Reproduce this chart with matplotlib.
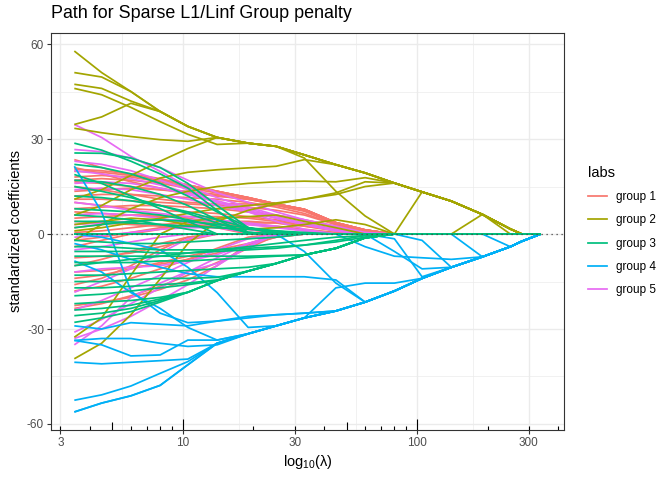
import numpy as np
import matplotlib
matplotlib.use("Agg")
import matplotlib.pyplot as plt
from matplotlib.lines import Line2D

plt.rcParams['font.family'] = ['Liberation Sans', 'DejaVu Sans']
plt.rcParams['mathtext.fontset'] = 'custom'
plt.rcParams['mathtext.rm'] = 'Liberation Sans'

# lambda knots of the path
lam = [3.44, 4.5, 6, 8, 10.5, 14, 19, 25, 33, 45, 60, 80, 105, 140, 190, 250, 280, 337]
n_k = len(lam)

# shared max-norm envelopes
env2 = [57.8, 51, 45, 38.7, 34, 30.5, 28.7, 27.7, 25, 21.9, 19.3, 16.1, 13.3, 10.4, 6.2, 1.6, 0, 0]
env4 = [-56.2, -53.4, -51.1, -47.8, -41.3, -34.5, -31.5, -29, -26.5, -24.3, -21.5, -18, -14, -10.5, -7.2, -4, -2.3, 0]
env3 = [-25.8, -25, -23.5, -21, -18.4, -14.7, -11.7, -9.3, -6.6, -4.5, -1.2]

group1 = [
    [23.5, 21, 18.5, 17, 15.5, 13.5, 11.5, 9.5, 7.8, 3.6, 1.3],
    [19.8, 19.5, 18.5, 17, 15.5, 13.5, 11.5, 9.5, 7.8, 3.6, 1.3],
    [18, 18.5, 18, 16.5, 15, 13.5, 11.5, 9.5, 7.8, 3.6, 1.3],
    [21, 19, 16.5, 14.5, 13, 12, 11, 9.5, 7.8, 3.6, 1.3],
    [20.5, 20, 19, 17.5, 15.5, 13.5, 11.5, 9.5, 7.8, 3.6, 1.3],
    [17, 17.5, 17, 16, 14.5, 13, 11.5, 9.5, 7.8, 3.6, 1.3],
    [16.5, 16, 15, 14, 13, 12, 11, 9.3, 7.5, 3.4, 1.2],
    [15, 14, 12.5, 11, 10, 9.5, 9.5, 9, 7.2, 3.2, 1],
    [13.5, 14, 14.5, 14, 13.5, 12.5, 11, 9.3, 7.5, 3.4, 1.2],
    [12, 12.5, 12.5, 12, 11.5, 11, 10, 8.5, 6.5, 3, 0.8],
    [11, 11, 10.5, 10, 9.5, 9, 8.5, 7.5, 6, 3, 1],
    [10, 9, 8, 7.5, 7, 6.5, 5.5, 4.5, 3, 1.5, 0.5],
    [8, 8.5, 9, 9, 8.5, 8, 7, 6, 4.5, 2.5, 0.8],
    [7, 6.5, 6, 5.5, 5.5, 5.5, 5, 4, 3, 1.5, 0.5],
    [5, 5.5, 6, 6, 5, 3.5, 2, 0.5],
    [4, 3.5, 3, 2.5, 2.5, 3, 3.5, 3.5, 2.5, 1.2, 0.3],
    [2, 3, 4, 4.5, 4, 3, 1.5],
    [0.5, 1, 2, 3, 3.5, 4, 4, 3.5, 2.5, 1],
    [-2, -1, 0.5, 2, 2.5, 2],
    [-4, -2, 0, 1.5, 2.5, 3, 3, 2.5, 1.5, 0.5],
    [-7.5, -7, -6, -4, -2],
    [-10, -8, -5.5, -3, -1],
    [-12, -11.5, -10.5, -9.5, -8, -6, -3.5, -1],
    [-14, -13, -11, -9, -7, -5, -3, -1],
    [-16, -14, -10, -5, -1],
    [-18, -16.5, -14, -11, -8, -4.5, -1],
    [-22.6, -21.5, -20, -17.5, -14.5, -10, -3.2],
    [-23.5, -22, -19.5, -16.5, -13, -9, -4.5, -0.5],
]

group2 = [
    env2,
    [51, 49.6] + env2[2:14] + [6.2, 0, 0, 0],
    [47.3, 46, 42] + env2[3:],
    [46, 44, 40, 35.5, 31.5, 28.3] + env2[6:],
    [34.6, 37, 41.3] + env2[3:8] + [24, 13.5, 5.7],
    [33.4, 32, 30.8, 29.8, 29.3] + env2[5:],
    [0] * 12 + env2[12:],
    [11, 14, 18.5, 23, 27] + env2[5:],
    [6, 9, 14, 17.7, 19.5, 20.3, 20.9, 21.4, 23.5] + env2[9:],
    [-2, 3, 8, 11.5, 13.5, 15, 16, 16.5, 16.7, 16.5, 17.8] + env2[11:],
    [1, 2, 3.5, 5, 6.5, 8, 9, 9.8, 11, 13, 16.5] + env2[11:],
    [-39.4, -34.5, -25.5, -14.2, -3, 4, 7.5, 9.5, 11, 12.5, 15] + env2[11:],
    [-32.6, -26.5, -13, 0, 4, 5, 5.5, 6, 4, 2],
    [3, 4, 5, 4.5, 3, 2, 1.5, 2, 3, 4.5, 3],
    [0] * 14 + env2[14:],
]

group3 = [
    env3,
    [-27.9, -26.5, -24.5, -21.5] + env3[4:],
    [-24, -23.5, -22.5, -20.5] + env3[4:],
    [-22, -21.5, -21, -20] + env3[4:],
    [-19.5, -19, -18, -17, -16] + env3[5:],
    [-17, -17, -16.5, -16, -15.5, -14.5] + env3[6:],
    [-15, -15, -14.5, -14, -14, -13.7] + env3[6:],
    [-13, -13, -12.5, -12, -11.5, -11, -10.5] + env3[7:],
    [-9, -9, -9, -8.5, -8.5, -8, -7.5, -7, -6.6, -4.5, -1.2],
    [-7, -7, -7, -7, -7, -7, -7, -6.8, -6.6, -4.5, -1.2],
    [-10, -9, -8, -7, -6, -5, -4, -3, -2, -1, -0.5],
    [-5.5, -5.5, -5.5, -6, -6, -5.5, -5, -4.5, -3.5, -2, -0.5],
    [-4, -4, -4.5, -5, -5, -5, -4.5, -4, -3.5, -2.5, -1],
    [-2, -2.5, -3, -3, -2.5, -2, -1.5, -1],
    [28.7, 26.5, 23, 19, 14.5, 7.5, 0.5],
    [25.6, 25.5, 24, 21, 16, 9, 2],
    [22, 21, 19, 16, 12, 7, 2],
    [18.8, 16, 12, 8, 4],
    [17, 16.5, 15, 12.5, 9, 4.5],
    [15, 13.5, 11.5, 9, 6.5, 3.5, 0.5],
    [12, 11.5, 10.5, 9, 7, 4.5, 2, 0.5],
    [8, 7.5, 7, 6, 4.5, 2.5, 0.5],
    [6, 5.5, 4.5, 3, 1.5],
    [4, 4, 3.5, 3, 2.5, 2, 1.5, 1, 0.5],
    [2, 3, 4, 4.5, 4, 3, 2, 1],
    [0],
    [0],
]

group4 = [
    env4,
    [-52.5, -50.8, -48, -44, -40.3] + env4[5:],
    [-40.5, -41, -40.5, -40, -39.5] + env4[5:],
    [-33.6, -35, -38.5, -38.2, -33.5, -33.5] + env4[6:],
    [-33.6, -33, -33, -34.5, -35.5, -35] + env4[6:],
    [-29, -30, -28, -28.5, -29, -27.5, -26, -25.5, -25] + env4[9:],
    [21.4, 7, -18, -25, -28, -27.5, -26.5, -25.5, -25] + env4[9:],
    [-8.5, -12, -18.5, -23.5, -29.5, -33.5] + env4[6:],
    [0, -1, -3, -5, -10.5, -18.5, -29.5] + env4[7:],
    [-3, -5, -8, -10.5, -12.5, -13.5, -13.5, -13.5, -13.5, -14.5] + env4[10:],
    env4[:9] + [-17, -15.5, -15.5, -14] + env4[13:],
    [0] * 8 + [-5.5, -15.5] + env4[10:],
    [0] * 11 + [-5.5, -11] + env4[13:],
    [0] * 10 + [-4, -7, -7.5, -8] + env4[14:],
    [0] * 11 + [-1.5, -13.5] + env4[13:],
    [0] * 12 + [-2] + env4[13:],
    [0] * 14 + env4[14:],
    [0] * 15 + env4[15:],
]

group5 = [
    [34.6, 30.5, 24.5, 19.8, 15, 11.5, 8.5, 6, 4.5, 2.5, 0.5],
    [26.7, 26, 24, 21, 17, 13, 10, 7, 4.5, 2],
    [23, 22, 20, 17, 14, 10, 7, 4, 1.5],
    [20, 19, 17.5, 15.5, 13, 10.5, 8, 5.5, 3.5, 1.5],
    [16, 16.5, 16, 14.5, 12.5, 10, 7.5, 5, 3, 1],
    [14, 14.5, 14, 12.5, 11, 9, 7, 5, 3, 1],
    [10, 9, 7.5, 6.5, 5.5, 4.5, 3.5, 2.5, 1],
    [6, 6.5, 6, 5, 3.5, 2, 0.5],
    [3, 3.5, 4, 4.5, 4.5, 4, 3, 2, 1],
    [-1, -0.5, 0.5, 1.5, 2, 2, 1.5, 0.5],
    [-35, -29, -20, -15.5, -11.8, -9.3, -4],
    [-33, -30, -26, -21, -16, -10, -4],
    [-31, -27, -22, -17, -12, -7.5, -3, -0.5],
    [-24, -21, -17, -13, -9, -5, -1.5],
    [-18.4, -15, -11, -6, -1.5],
    [-12, -11, -10.5, -10, -8.5, -6.5, -3, -0.5],
    [-5, -4, -2.5, -1],
]

labels = ['group 1', 'group 2', 'group 3', 'group 4', 'group 5']
colors = ['#F8766D', '#A3A500', '#00BF7D', '#00B0F6', '#E76BF3']
groups = [group1, group2, group3, group4, group5]
draw_order = [0, 4, 1, 3, 2]


def pad(row):
    # coefficients are zero after the last listed knot
    return list(row) + [0] * (n_k - len(row))


fig = plt.figure(figsize=(6.72, 4.8), dpi=100)
ax = fig.add_axes([51 / 672, 50 / 480, 513 / 672, 397 / 480])

for gi in draw_order:
    for row in groups[gi]:
        ax.plot(lam, pad(row), color=colors[gi], lw=1.25, solid_capstyle='butt')

ax.axhline(0, color='#444444', lw=0.9, ls=(0, (1, 3)), zorder=5)

ax.set_xscale('log')
lo, hi = np.log10(lam[0]), np.log10(lam[-1])
pad_x = 0.05 * (hi - lo)
ax.set_xlim(10 ** (lo - pad_x), 10 ** (hi + pad_x))
all_vals = [v for g in groups for row in g for v in row]
ymin, ymax = min(all_vals), max(all_vals)
pad_y = 0.05 * (ymax - ymin)
ax.set_ylim(ymin - pad_y, ymax + pad_y)

xbreaks = [3, 10, 30, 100, 300]
ybreaks = [-60, -30, 0, 30, 60]
ax.set_xticks(xbreaks)
ax.set_xticklabels([str(b) for b in xbreaks])
xminor = [np.sqrt(a * b) for a, b in zip(xbreaks[:-1], xbreaks[1:])]
ax.set_xticks(xminor, minor=True)
ax.set_yticks(ybreaks)
ax.set_yticklabels([str(b) for b in ybreaks])
ax.set_yticks([-45, -15, 15, 45], minor=True)

ax.grid(True, which='major', color='#EBEBEB', lw=1.0)
ax.grid(True, which='minor', color='#EBEBEB', lw=0.5)
ax.set_axisbelow(True)
ax.tick_params(which='major', length=3, width=0.8, color='#333333',
               labelsize=8.5, labelcolor='#4D4D4D', pad=2)
ax.tick_params(which='minor', length=0)
for s in ax.spines.values():
    s.set_color('#333333')
    s.set_linewidth(0.8)

# log ticks along the bottom
short_t, mid_t, long_t = [], [], []
for dec in [1, 10, 100]:
    for m in range(1, 10):
        v = m * dec
        if v < 3 or v > 400:
            continue
        (long_t if m == 1 else mid_t if m == 5 else short_t).append(v)
panel_h = 397.0
tr = ax.get_xaxis_transform()
ax.vlines(short_t, 0, 3.8 / panel_h, transform=tr, color='black', lw=0.8, zorder=6)
ax.vlines(mid_t, 0, 7.6 / panel_h, transform=tr, color='black', lw=0.8, zorder=6)
ax.vlines(long_t, 0, 11.3 / panel_h, transform=tr, color='black', lw=0.8, zorder=6)

ax.set_xlabel(r'log$_{\mathregular{10}}$(λ)', fontsize=10.5, labelpad=3)
ax.set_ylabel('standardized coefficients', fontsize=10.5, labelpad=3)
fig.text(51 / 672, 1 - 13 / 480, 'Path for Sparse L1/Linf Group penalty',
         fontsize=12.9, ha='left', va='center')

handles = [Line2D([], [], color=c, lw=1.25) for c in colors]
leg = fig.legend(handles, labels, loc='upper left', title='labs',
                 bbox_to_anchor=(588 / 672, 1 - 166 / 480), frameon=False,
                 fontsize=8.5, title_fontsize=10.5, handlelength=1.6,
                 handletextpad=0.75, labelspacing=0.95, borderpad=0,
                 borderaxespad=0)
leg._legend_box.align = 'left'

fig.savefig('out.png', dpi=100)
